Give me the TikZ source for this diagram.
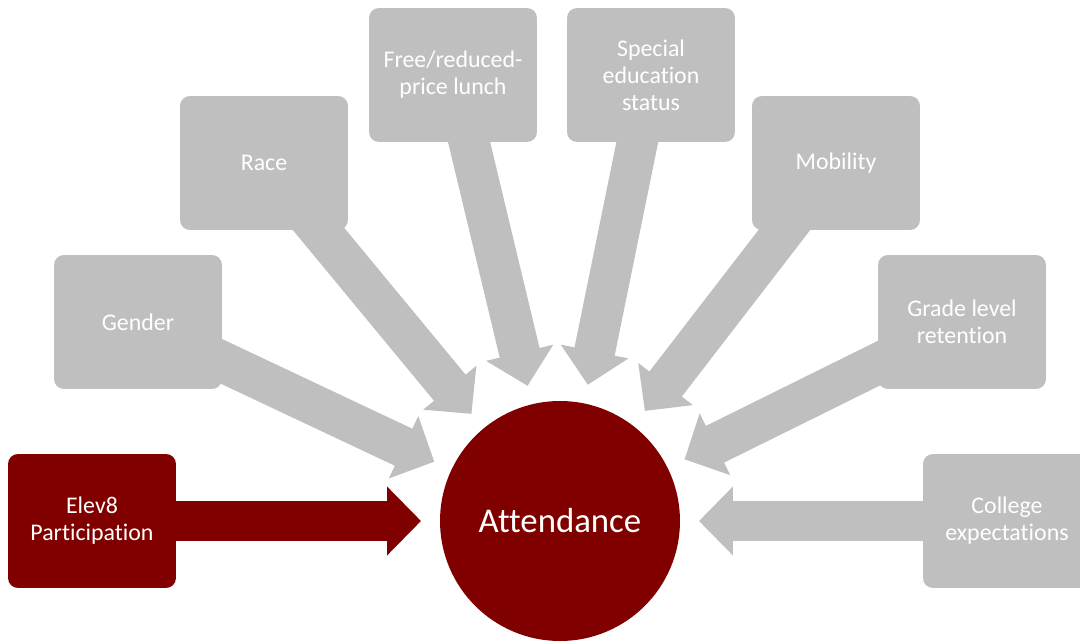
\documentclass[tikz,border=0pt]{standalone}
\usepackage{fontspec}
\setmainfont{Carlito}[Ligatures=NoCommon]
\usetikzlibrary{arrows.meta,backgrounds}
\definecolor{elevred}{RGB}{128,0,0}
\definecolor{factgray}{RGB}{191,191,191}
\begin{document}
\begin{tikzpicture}[x=0.02cm,y=-0.02cm,
  box/.style={fill=factgray, rounded corners=0.2cm, minimum width=3.36cm,
    minimum height=2.68cm, text=white, align=center,
    font=\fontsize{13.6}{15.4}\selectfont},
  redbox/.style={box, fill=elevred},
  flow/.style={line width=0.82cm, factgray, shorten >=0.38cm,
    -{Triangle[width=1.34cm,length=0.68cm]}},
  redflow/.style={flow, elevred}]
\useasboundingbox (0,0) rectangle (1080,642);
\clip (0,0) rectangle (1080,642);
\node (Att) [circle, fill=elevred, minimum size=4.8cm, inner sep=0pt, outer sep=0pt,
  text=white, font=\fontsize{19.8}{23}\selectfont] at (560,521) {Attendance};
\node (Elev) [redbox] at (92,521) {Elev8\\Participation};
\node (Gen) [box] at (138,322) {Gender};
\node (Race) [box] at (264,163) {Race};
\node (Lunch) [box] at (453,75) {Free/reduced-\\price lunch};
\node (Sped) [box] at (651,75) {Special\\education\\status};
\node (Mob) [box] at (836,163) {Mobility};
\node (Grade) [box] at (962,322) {Grade level\\retention};
\node (Coll) [box] at (1007,521) {College\\expectations};
\begin{scope}[on background layer]
\draw [redflow] (Elev.center) -- (Att);
\foreach \f in {Gen,Race,Lunch,Sped,Mob,Grade,Coll}
  \draw [flow] (\f.center) -- (Att);
\end{scope}
\end{tikzpicture}
\end{document}
